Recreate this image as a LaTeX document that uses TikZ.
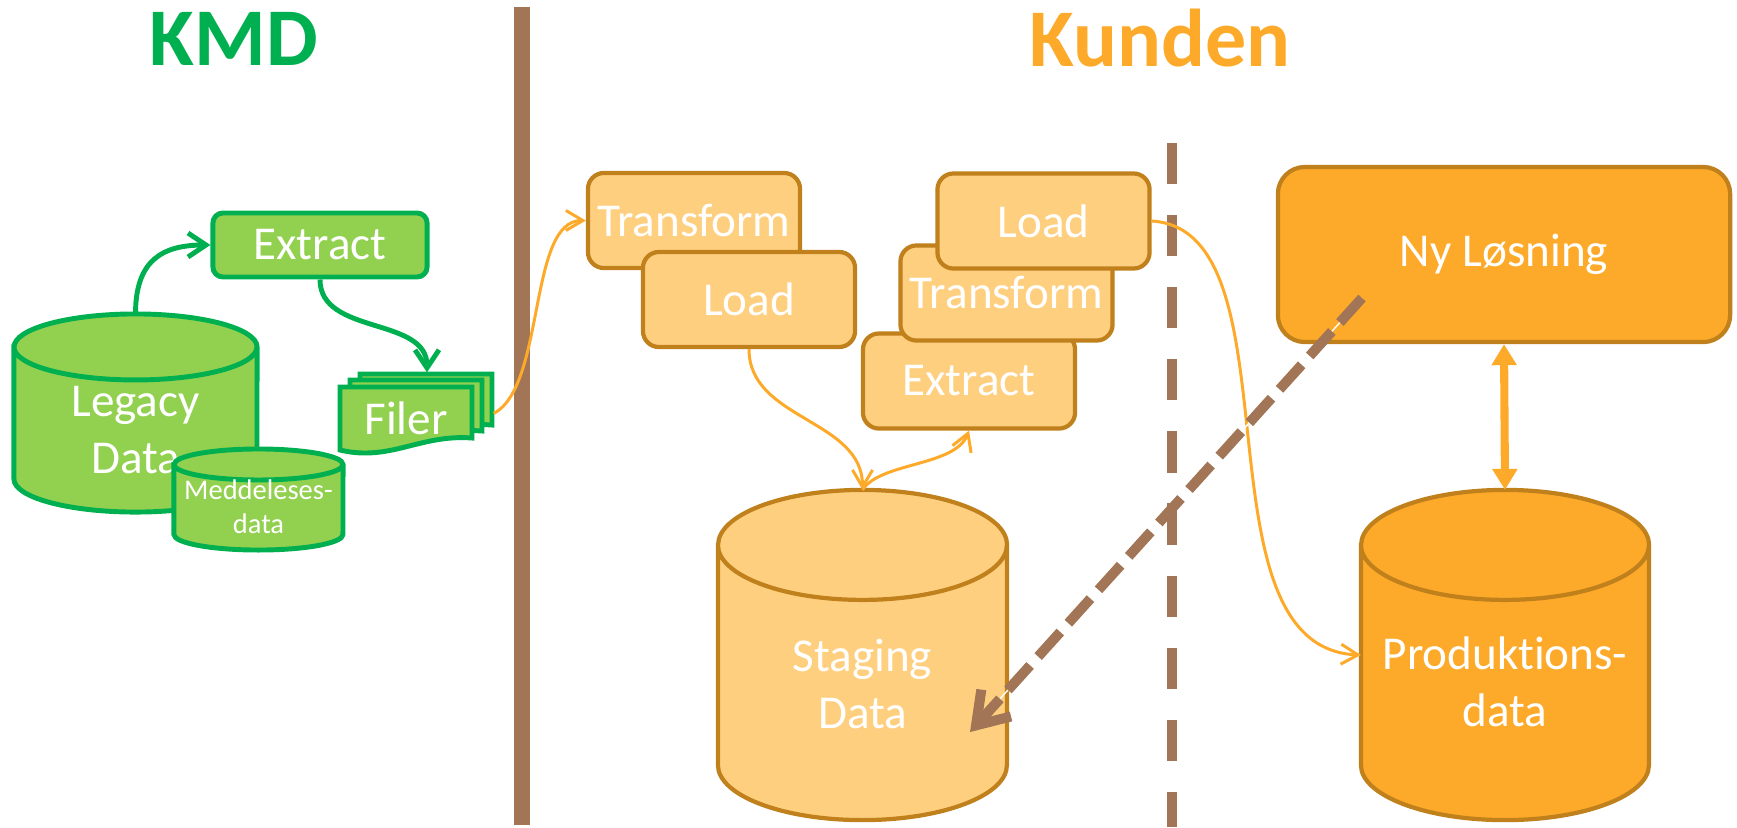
\documentclass[tikz,border=0pt]{standalone}
\usepackage{fontspec}
\setmainfont{Carlito}[Ligatures=NoCommon]
\usepackage{tikz}
\usetikzlibrary{arrows.meta}
\definecolor{kmdgreen}{RGB}{0,176,80}
\definecolor{legfill}{RGB}{146,208,80}
\definecolor{kundeorange}{RGB}{253,170,42}
\definecolor{etlfill}{RGB}{255,207,128}
\definecolor{etlline}{RGB}{192,128,28}
\definecolor{divbrown}{RGB}{161,117,85}
\tikzstyle{lbl} = [text=white, font=\fontsize{13.4}{16.2}\selectfont, align=center]
\tikzstyle{kmdbox} = [rectangle, rounded corners=0.1cm, draw=kmdgreen, fill=legfill, line width=1.4pt,
    minimum width=2.14cm, minimum height=0.64cm, inner sep=1pt, lbl]
\tikzstyle{etlbox} = [rectangle, rounded corners=0.16cm, draw=etlline, fill=etlfill, line width=1.2pt,
    minimum width=2.12cm, minimum height=0.95cm, inner sep=1pt, lbl]
\tikzstyle{db} = [rectangle, inner sep=0pt, outer sep=0pt]
\tikzstyle{dbgreen} = [draw=kmdgreen, fill=legfill, line width=1.4pt]
\tikzstyle{dborange} = [draw=etlline, line width=1.2pt]
\tikzstyle{greenarrow} = [line width=1.4pt, kmdgreen, -{Straight Barb[length=0.18cm, width=0.24cm]}]
\tikzstyle{arrow} = [line width=0.85pt, kundeorange, -{Straight Barb[length=0.17cm, width=0.2cm]}]
\tikzstyle{dblarrow} = [line width=2.3pt, kundeorange,
    {Triangle[length=0.21cm, width=0.24cm]}-{Triangle[length=0.21cm, width=0.24cm]}]
\tikzstyle{dasharrow} = [line width=2.85pt, divbrown, dash pattern=on 9.4pt off 3.4pt,
    -{Straight Barb[length=0.3cm, width=0.4cm]}, preaction={draw=white, solid, -, shorten >=0.25cm}]
\newcommand{\dbcyl}[4]{%
  \draw[#2] ([shift={(0,#4)}]#1.north west) -- ([shift={(0,-#4)}]#1.south west)
    arc[start angle=180, end angle=0, x radius=#3, y radius=#4]
    -- ([shift={(0,#4)}]#1.north east)
    arc[start angle=0, end angle=-180, x radius=#3, y radius=#4] -- cycle
    ([shift={(0,#4)}]#1.north west) arc[start angle=180, end angle=0, x radius=#3, y radius=#4];}

\begin{document}
\begin{tikzpicture}[x=0.01cm, y=-0.01cm, >=stealth]
\useasboundingbox (0,0) rectangle (1737,827);
\node[anchor=base, text=kmdgreen, font=\fontsize{23.3}{28}\selectfont\bfseries] (kmd) at (234,65) {KMD};
\node[anchor=base, text=kundeorange, font=\fontsize{23.3}{28}\selectfont\bfseries] (kunden) at (1160,66) {Kunden};
\draw[divbrown, line width=4.5pt] (522,7) -- (522,825);
\draw[divbrown, line width=2.85pt, dash pattern=on 11.7pt off 8.8pt] (1172,143) -- (1172,827);

\node[db, minimum width=2.43cm, minimum height=1.98cm] (legacy) at (135.5,413) {};
\dbcyl{legacy}{dbgreen}{121.5}{33}
\node[lbl] (legacytxt) at ([yshift=-0.17cm]legacy.center) {Legacy\\Data};
\node[db, minimum width=1.69cm, minimum height=1.01cm] (medd) at (258.5,499.5) {};
\dbcyl{medd}{dbgreen}{84.5}{15.5}
\node[lbl, font=\fontsize{8.1}{9.7}\selectfont] (meddtxt) at ([yshift=-0.075cm]medd.center) {Meddeleses-\\data};
\node[kmdbox] (extract) at (320,245) {Extract};
\foreach \dx/\dy in {20/-13,10/-7,0/0}
  \draw[kmdgreen, fill=legfill, line width=1.4pt] ([shift={(\dx,\dy)}]340,387) -- ++(132,0) -- ++(0,51)
    .. controls +(-52,-4) and +(50,12) .. ++(-132,12) -- cycle;
\node[lbl, minimum width=1.32cm, minimum height=0.63cm, inner sep=0pt] (filer) at (406,418.5) {Filer};

\node[etlbox] (trans1) at (694,220.5) {Transform};
\node[etlbox] (load1) at (749,299.5) {Load};
\node[etlbox] (extract2) at (969,381) {Extract};
\node[etlbox] (trans2) at (1006.5,293) {Transform};
\node[etlbox] (load2) at (1043.5,221) {Load};
\node[db, minimum width=2.89cm, minimum height=3.3cm] (staging) at (862.5,655) {};
\dbcyl{staging}{dborange, fill=etlfill}{144.5}{55}
\node[lbl] (stagingtxt) at ([yshift=-0.285cm]staging.center) {Staging\\Data};
\node[rectangle, rounded corners=0.27cm, draw=etlline, fill=kundeorange, line width=1.2pt,
    minimum width=4.52cm, minimum height=1.75cm, lbl] (nyl) at (1504,254.5) {Ny Løsning};
\node[db, minimum width=2.88cm, minimum height=3.3cm] (prod) at (1505,655) {};
\dbcyl{prod}{dborange, fill=kundeorange}{144}{55}
\node[lbl] (prodtxt) at ([yshift=-0.27cm]prod.center) {Produktions-\\data};

\draw[greenarrow] (legacy.north) .. controls +(0,-54) and +(-48,0) .. (extract.west);
\draw[greenarrow] (extract.south) .. controls +(0,56) and +(0,-56) .. ([shift={(21,-14)}]filer.north);
\draw[arrow] ([shift={(21,-5)}]filer.east) .. controls +(52,-28) and +(-58,0) .. (trans1.west);
\draw[arrow] (load1.south) .. controls +(0,71) and +(0,-71) .. (staging.north);
\draw[arrow] (staging.north) .. controls +(18,-28) and +(-14,36) .. (extract2.south);
\draw[arrow] (load2.east) .. controls +(151,9) and +(-171,-7) .. (prod.west);
\draw[dblarrow] (nyl.south) -- (prod.north);
\draw[dasharrow] ([shift={(-142,43.5)}]nyl.center) -- ([shift={(107.5,77)}]staging.center);
\end{tikzpicture}
\end{document}
